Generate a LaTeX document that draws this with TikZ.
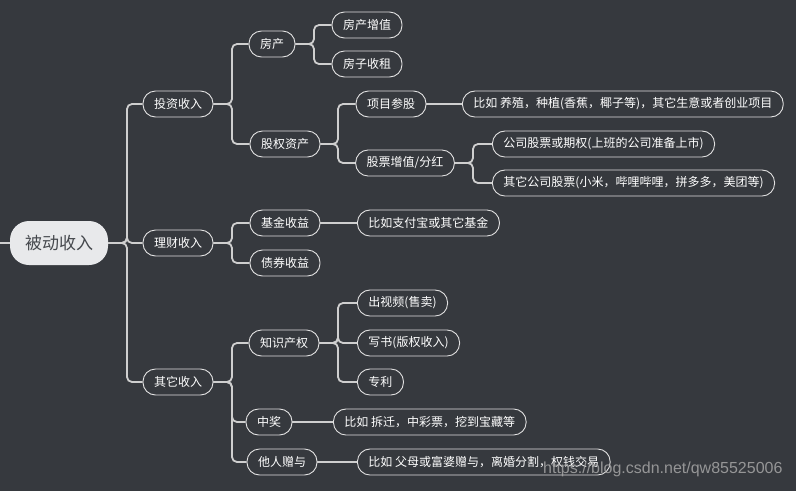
\documentclass[tikz,border=0pt]{standalone}
\usepackage{fontspec}
\setmainfont{Noto Sans CJK SC}
\newfontfamily\wmfont{Liberation Sans}
\definecolor{bg}{HTML}{36393E}
\definecolor{ln}{HTML}{CFCFCF}
\definecolor{rootfill}{HTML}{E8E9EB}
\definecolor{roottext}{HTML}{45484D}
\tikzset{
  leaf/.style={draw=white!88!black, line width=0.9pt, fill=bg, text=white, rounded corners=12.5pt,
    minimum height=26pt, inner xsep=11pt, inner ysep=0pt, font=\fontsize{12}{14}\selectfont},
  rootbox/.style={fill=rootfill, text=roottext, rounded corners=19pt, minimum height=44pt,
    minimum width=98pt, font=\fontsize{17}{20}\selectfont},
  conn/.style={draw=ln, line width=1.8pt, rounded corners=5pt},
  wmark/.style={text=white!65!black, opacity=0.85, font=\wmfont\fontsize{16}{18}\selectfont},
}
\begin{document}
\begin{tikzpicture}[x=1pt,y=-1pt]
\fill[bg] (0,0) rectangle (796,491);
\useasboundingbox (0,0) rectangle (796,491);

\node[rootbox] (root) at (59,243) {被动收入};
\coordinate (lefte) at (0,243);

\node[leaf] (inv) at (178,104) {投资收入};
\node[leaf] (fin) at (178,243) {理财收入};
\node[leaf] (oth) at (178,382) {其它收入};

\node[leaf] (fc) at (272,44) {房产};
\node[leaf] (gq) at (285,144) {股权资产};
\node[leaf] (fczz) at (367,25) {房产增值};
\node[leaf] (fzsz) at (367,64) {房子收租};
\node[leaf] (xmcg) at (391,104) {项目参股};
\node[leaf] (gpzz) at (405,163) {股票增值/分红};
\node[leaf,anchor=west] (yz) at (462,104) {比如 养殖，种植(香蕉，椰子等)，其它生意或者创业项目};
\node[leaf,anchor=west] (gsgp) at (492,144) {公司股票或期权(上班的公司准备上市)};
\node[leaf,anchor=west] (qtgs) at (492,183) {其它公司股票(小米，哔哩哔哩，拼多多，美团等)};

\node[leaf] (jj) at (285,223) {基金收益};
\node[leaf] (zq) at (285,263) {债券收益};
\node[leaf,anchor=west] (zfb) at (357,223) {比如支付宝或其它基金};

\node[leaf] (zs) at (284,343) {知识产权};
\node[leaf] (zj) at (269,422) {中奖};
\node[leaf] (zy) at (282,462) {他人赠与};
\node[leaf,anchor=west] (sp) at (357,303) {出视频(售卖)};
\node[leaf,anchor=west] (xs) at (357,343) {写书(版权收入)};
\node[leaf,anchor=west] (zl) at (357,382) {专利};
\node[leaf,anchor=west] (cq) at (333,422) {比如 拆迁，中彩票，挖到宝藏等};
\node[leaf,anchor=west] (fm) at (357,462) {比如 父母或富婆赠与，离婚分割，权钱交易};

% connectors
\draw[conn] (lefte) -- (root.west);
\foreach \t in {inv,fin,oth}
  \draw[conn] (root.east) -- (127,243) |- (\t.west);
\foreach \t in {fc,gq}
  \draw[conn] (inv.east) -- (232,104) |- (\t.west);
\foreach \t in {fczz,fzsz}
  \draw[conn] (fc.east) -- (314,44) |- (\t.west);
\foreach \t in {xmcg,gpzz}
  \draw[conn] (gq.east) -- (338,144) |- (\t.west);
\draw[conn] (xmcg) -- (yz);
\foreach \t in {gsgp,qtgs}
  \draw[conn] (gpzz.east) -- (473,163) |- (\t.west);
\foreach \t in {jj,zq}
  \draw[conn] (fin.east) -- (232,243) |- (\t.west);
\draw[conn] (jj) -- (zfb);
\foreach \t in {zs,zj,zy}
  \draw[conn] (oth.east) -- (232,382) |- (\t.west);
\foreach \t in {sp,xs,zl}
  \draw[conn] (zs.east) -- (338,343) |- (\t.west);
\draw[conn] (zj) -- (cq);
\draw[conn] (zy) -- (fm);

\node[wmark, anchor=east] (wm) at (786,469) {https://blog.csdn.net/qw85525006};
\end{tikzpicture}
\end{document}
